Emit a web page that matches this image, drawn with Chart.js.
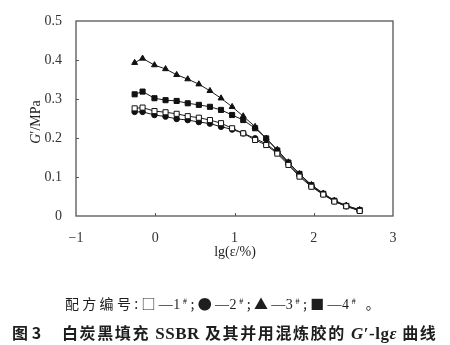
<!DOCTYPE html>
<html>
<head>
<meta charset="utf-8">
<script src="https://cdn.jsdelivr.net/npm/chart.js@4/dist/chart.umd.min.js"></script>
<style>
  body { margin: 0; background: #fff; }
  #wrap { position: relative; width: 450px; height: 345px; overflow: hidden; background: #fff; }
  #chart { position: absolute; left: 0; top: 0; }
  .txt { position: absolute; white-space: nowrap; color: #1e1e1e; line-height: 20px; }
  #legend { left: 65px; top: 293px; font: 14px "Noto Sans CJK SC", sans-serif; letter-spacing: 3.3px; }
  #legend .n { font-family: "Liberation Serif", serif; font-size: 14px; letter-spacing: 0.5px; }
  #legend sup { font-size: 8px; vertical-align: 5px; margin-left: 2px; }
  #figno { left: 12px; top: 320px; font: bold 16px "Noto Sans CJK SC", sans-serif; }
  #caption { left: 62px; top: 320px; font: bold 16px "Noto Sans CJK SC", sans-serif; letter-spacing: 1.6px; }
  #caption .l { font-family: "Liberation Serif", serif; font-size: 17px; letter-spacing: 0.5px; }
</style>
</head>
<body>
<div id="wrap">
  <canvas id="chart" width="450" height="345"></canvas>
  <div class="txt" id="legend">配方编号:□<span class="n">—1</span><sup>#</sup>;●<span class="n">—2</span><sup>#</sup>;▲<span class="n">—3</span><sup>#</sup>;■<span class="n">—4</span><sup>#</sup> 。</div>
  <div class="txt" id="figno">图 3</div>
  <div class="txt" id="caption">白炭黑填充 <span class="l">SSBR</span> 及其并用混炼胶的 <span class="l"><i>G</i>′-lg<i>ε</i></span> 曲线</div>
</div>
<script>
// lg(strain / %) for every measured point
const lgStrain = [-0.26, -0.16, -0.01, 0.13, 0.27, 0.41, 0.55, 0.69, 0.83, 0.97, 1.11,
                  1.26, 1.40, 1.54, 1.68, 1.82, 1.97, 2.12, 2.26, 2.41, 2.58];

// storage modulus G' (MPa) per compound
const g1 = [0.276, 0.278, 0.269, 0.266, 0.262, 0.256, 0.252, 0.246, 0.238, 0.225, 0.212,
            0.195, 0.182, 0.160, 0.131, 0.101, 0.075, 0.055, 0.037, 0.025, 0.013];
const g2 = [0.267, 0.267, 0.259, 0.255, 0.249, 0.246, 0.241, 0.237, 0.229, 0.222, 0.212,
            0.199, 0.185, 0.163, 0.134, 0.104, 0.077, 0.056, 0.038, 0.025, 0.014];
const g3 = [0.393, 0.404, 0.387, 0.377, 0.362, 0.351, 0.338, 0.321, 0.302, 0.280, 0.256,
            0.229, 0.199, 0.170, 0.138, 0.108, 0.080, 0.058, 0.040, 0.027, 0.016];
const g4 = [0.312, 0.319, 0.302, 0.297, 0.295, 0.289, 0.285, 0.280, 0.272, 0.259, 0.246,
            0.225, 0.199, 0.168, 0.137, 0.108, 0.079, 0.057, 0.039, 0.026, 0.015];

const seriesNames = ['1#', '2#', '3#', '4#'];
const xTicks = [-1, 0, 1, 2, 3];
const yTicks = [0, 0.1, 0.2, 0.3, 0.4, 0.5];

const pts = ys => lgStrain.map((x, i) => ({ x: x, y: ys[i] }));

function series(label, ys, style, fill, r) {
  return {
    label: label, data: pts(ys), showLine: true,
    borderColor: '#1a1a1a', borderWidth: 1,
    pointStyle: style, pointRadius: r, pointHoverRadius: r,
    pointBackgroundColor: fill, pointBorderColor: '#111', pointBorderWidth: 1
  };
}

// frame, inward tick marks and axis titles
const framePlugin = {
  id: 'frame',
  beforeDatasetsDraw(chart) {
    const { ctx, chartArea: a, scales: { x, y } } = chart;
    ctx.save();
    ctx.strokeStyle = '#555';
    ctx.lineWidth = 1.3;
    ctx.strokeRect(a.left, a.top, a.width, a.height);
    ctx.lineWidth = 1;
    yTicks.slice(1, -1).forEach(v => {
      const py = Math.round(y.getPixelForValue(v)) + 0.5;
      ctx.beginPath(); ctx.moveTo(a.left, py); ctx.lineTo(a.left + 3, py); ctx.stroke();
    });
    xTicks.slice(1, -1).forEach(v => {
      const px = Math.round(x.getPixelForValue(v)) + 0.5;
      ctx.beginPath(); ctx.moveTo(px, a.bottom); ctx.lineTo(px, a.bottom - 3); ctx.stroke();
    });
    ctx.restore();
  },
  afterDraw(chart) {
    const { ctx } = chart;
    const reg = '14px "Liberation Serif"', ita = 'italic 14px "Liberation Serif"';
    ctx.save();
    ctx.fillStyle = '#222';
    ctx.textBaseline = 'middle';
    // x title
    ctx.font = reg;
    ctx.textAlign = 'center';
    ctx.fillText('lg(ε/%)', 235, 252);
    // y title, rotated, with italic G
    ctx.translate(36, 122);
    ctx.rotate(-Math.PI / 2);
    ctx.textAlign = 'left';
    ctx.font = ita;
    const wa = ctx.measureText('G').width;
    ctx.font = reg;
    const wb = ctx.measureText('′/MPa').width;
    const sx = -(wa + wb) / 2;
    ctx.font = ita;
    ctx.fillText('G', sx, 0);
    ctx.font = reg;
    ctx.fillText('′/MPa', sx + wa, 0);
    ctx.restore();
  }
};

new Chart(document.getElementById('chart'), {
  type: 'scatter',
  data: {
    datasets: [
      series(seriesNames[0], g1, 'rect', '#fff', 3.6),
      series(seriesNames[1], g2, 'circle', '#111', 2.8),
      series(seriesNames[2], g3, 'triangle', '#111', 3.4),
      series(seriesNames[3], g4, 'rect', '#111', 3.6)
    ]
  },
  options: {
    responsive: false,
    animation: false,
    devicePixelRatio: 1,
    layout: { padding: { left: 0, top: 21, right: 57, bottom: 0 } },
    plugins: { legend: { display: false }, tooltip: { enabled: false } },
    scales: {
      x: {
        type: 'linear', min: -1, max: 3,
        afterFit: s => { s.height = 129; },
        afterBuildTicks: s => { s.ticks = xTicks.map(v => ({ value: v })); },
        grid: { display: false }, border: { display: false },
        ticks: {
          padding: 6, color: '#333', maxRotation: 0,
          font: { family: 'Liberation Serif', size: 14 },
          callback: v => v < 0 ? '−' + Math.abs(v) : String(v)
        }
      },
      y: {
        type: 'linear', min: 0, max: 0.5,
        afterFit: s => { s.width = 76; },
        afterBuildTicks: s => { s.ticks = yTicks.map(v => ({ value: v })); },
        grid: { display: false }, border: { display: false },
        ticks: {
          padding: 6, color: '#333',
          font: { family: 'Liberation Serif', size: 14 },
          callback: v => v === 0 ? '0' : v.toFixed(1)
        }
      }
    }
  },
  plugins: [framePlugin]
});
</script>
</body>
</html>
